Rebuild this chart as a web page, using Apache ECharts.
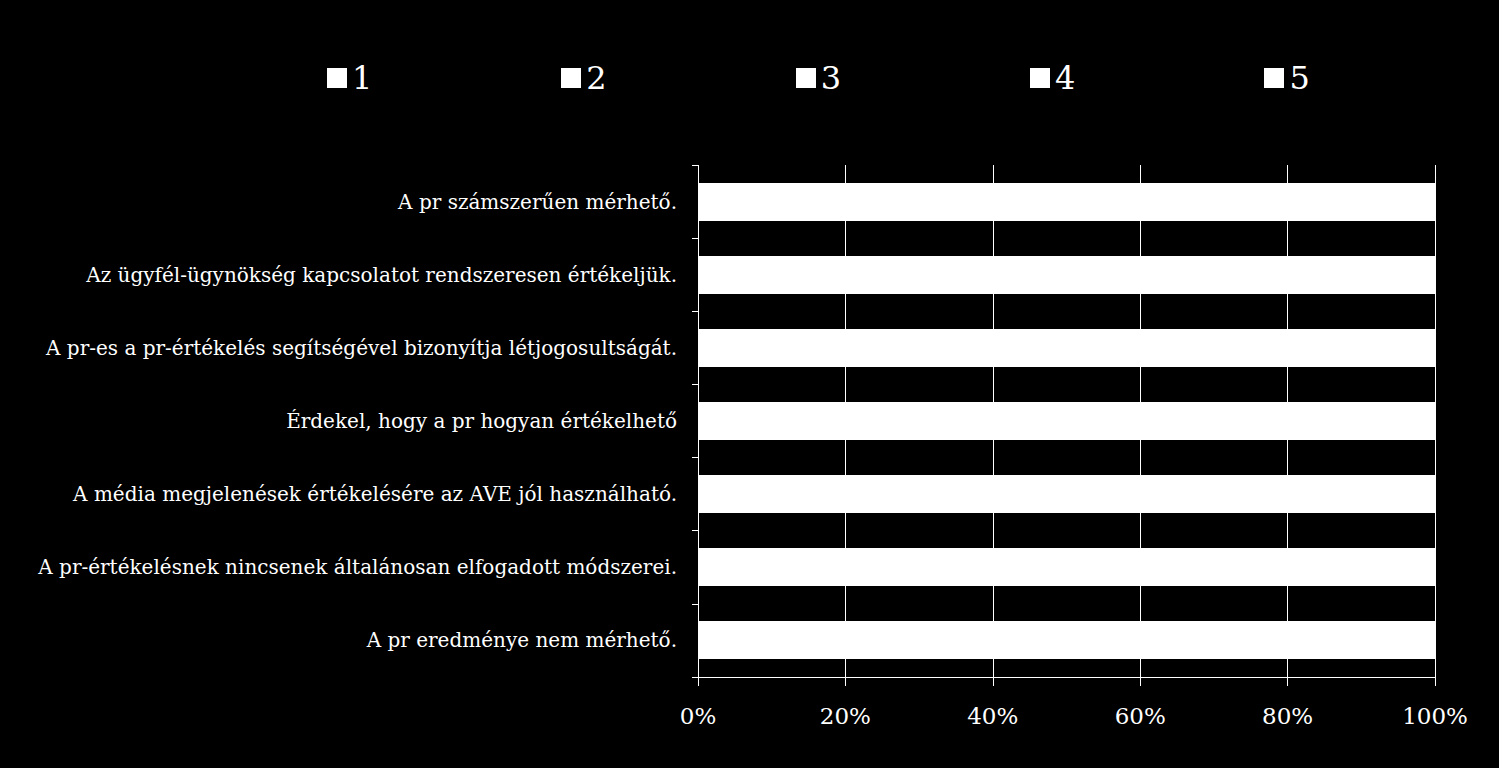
<!DOCTYPE html>
<html>
<head>
<meta charset="utf-8">
<script src="https://cdn.jsdelivr.net/npm/echarts@6/dist/echarts.min.js"></script>
<style>
  html, body { margin: 0; padding: 0; background: #000; }
  #chart { width: 1499px; height: 768px; }
  #chart svg path { shape-rendering: crispEdges; }
</style>
</head>
<body>
<div id="chart"></div>
<script>
// statements, top to bottom as in the chart
const categories = [
  "A pr számszerűen mérhető.",
  "Az ügyfél-ügynökség kapcsolatot rendszeresen értékeljük.",
  "A pr-es a pr-értékelés segítségével bizonyítja létjogosultságát.",
  "Érdekel, hogy a pr hogyan értékelhető",
  "A média megjelenések értékelésére az AVE jól használható.",
  "A pr-értékelésnek nincsenek általánosan elfogadott módszerei.",
  "A pr eredménye nem mérhető."
];
const seriesNames = ["1", "2", "3", "4", "5"];
// share of answers (%) per rating, one array per rating
const score1 = [8, 5, 4, 2, 20, 10, 35];
const score2 = [17, 10, 12, 5, 30, 20, 30];
const score3 = [30, 25, 28, 13, 30, 30, 20];
const score4 = [28, 35, 32, 30, 15, 25, 10];
const score5 = [17, 25, 24, 50, 5, 15, 5];
const xTicks = [0, 20, 40, 60, 80, 100];

const serif = "'DejaVu Serif', 'Liberation Serif', serif";
const values = [score1, score2, score3, score4, score5];

// svg so the stacked pieces can be drawn with crisp edges (no seams)
let myChart = echarts.init(document.getElementById('chart'), null, { renderer: 'svg' });
let option = {
  backgroundColor: '#000',
  animation: false,
  legend: {
    data: seriesNames,
    left: 322,
    top: 57,
    icon: 'rect',
    itemWidth: 20,
    itemHeight: 20,
    itemGap: 189,
    textStyle: { color: '#fff', fontFamily: serif, fontSize: 32 }
  },
  grid: {
    left: 698,
    right: 64,
    top: 165,
    bottom: 91
  },
  xAxis: {
    type: 'value',
    min: xTicks[0],
    max: xTicks[xTicks.length - 1],
    interval: 20,
    axisLine: { show: true, lineStyle: { color: '#fff', width: 1 } },
    axisTick: { show: true, length: 9, lineStyle: { color: '#fff' } },
    splitLine: { show: true, lineStyle: { color: '#fff', width: 1 } },
    axisLabel: {
      color: '#fff',
      fontFamily: serif,
      fontSize: 23,
      margin: 27,
      formatter: '{value}%'
    }
  },
  yAxis: {
    type: 'category',
    inverse: true,
    data: categories,
    axisLine: { show: true, lineStyle: { color: '#fff', width: 1 } },
    axisTick: { show: true, length: 6, lineStyle: { color: '#fff' } },
    axisLabel: {
      color: '#fff',
      fontFamily: serif,
      fontSize: 20,
      margin: 21
    }
  },
  series: seriesNames.map(function (name, i) {
    return {
      name: name,
      type: 'bar',
      stack: 'total',
      barCategoryGap: '48%',
      data: values[i],
      itemStyle: { color: '#fff' }
    };
  })
};
myChart.setOption(option);
</script>
</body>
</html>
